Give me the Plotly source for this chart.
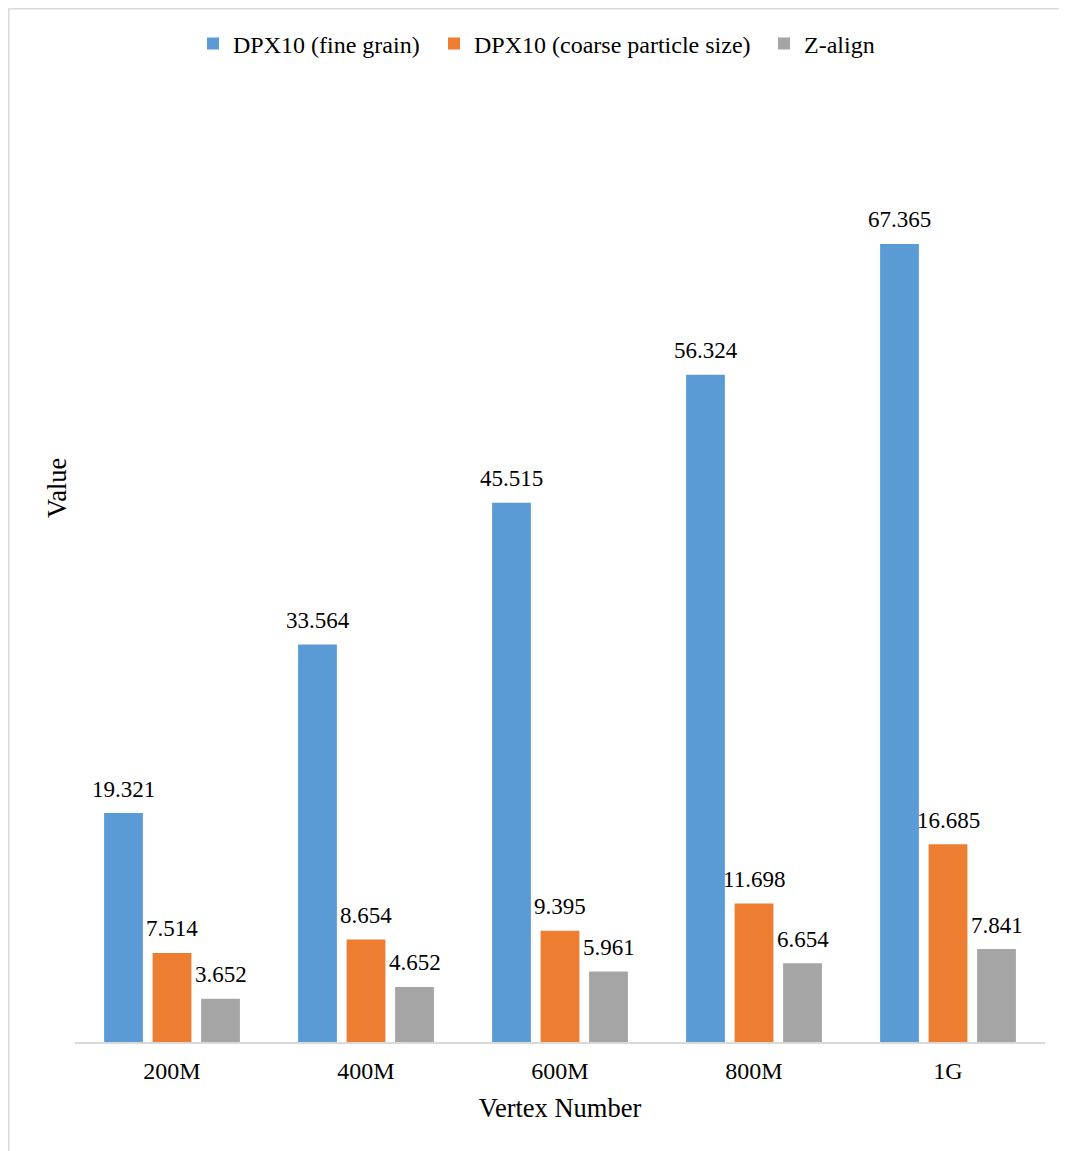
import plotly.graph_objects as go

categories = ["200M", "400M", "600M", "800M", "1G"]
series_names = ["DPX10 (fine grain)", "DPX10 (coarse particle size)", "Z-align"]
fine_grain = [19.321, 33.564, 45.515, 56.324, 67.365]
coarse = [7.514, 8.654, 9.395, 11.698, 16.685]
z_align = [3.652, 4.652, 5.961, 6.654, 7.841]
colors = ["#5B9BD5", "#ED7D31", "#A5A5A5"]

OFF = 8  # page body offset
W, H = 1067 - OFF, 1151 - OFF
# screen-space targets
PLOT_L, PLOT_R, PLOT_T, BASE = 75, 1045, 100, 1042
L = PLOT_L - OFF
R = W - (PLOT_R - OFF)
T = PLOT_T - OFF
B = H - (BASE - OFF)
plot_w = W - L - R
plot_h = H - T - B
ymax = plot_h / 11.846
BARGAP = 0.25
slot_px = plot_w / len(categories) * (1 - BARGAP) / len(series_names)

FONT = "Liberation Serif, Times New Roman, serif"

def px_to_paper(px, py):
    fx, fy = px - OFF, py - OFF
    return (fx - L) / plot_w, (H - B - fy) / plot_h

legend_names = ["legend", "legend2", "legend3"]
legend_text_x = [233, 474, 804]
LEG_Y = px_to_paper(0, 44)[1]

fig = go.Figure()
annotations = []
all_vals = [fine_grain, coarse, z_align]
for i, (name, vals, c) in enumerate(zip(series_names, all_vals, colors)):
    fig.add_trace(go.Bar(
        x=categories, y=vals, name=name, marker=dict(color=c, line=dict(width=0)),
        legend=legend_names[i], cliponaxis=False,
    ))
    for cat, v in zip(categories, vals):
        annotations.append(dict(
            x=cat, y=v, xref="x", yref="y", text=f"{v:.3f}", showarrow=False,
            xanchor="center", yanchor="middle",
            xshift=(i - 1) * slot_px, yshift=24,
            font=dict(family=FONT, size=23, color="#000000")))

annotations.append(dict(
    text="Value", xref="paper", yref="paper",
    x=px_to_paper(57, 488)[0], y=px_to_paper(57, 488)[1],
    textangle=-90, showarrow=False, xanchor="center", yanchor="middle",
    font=dict(family=FONT, size=26.5, color="#000000")))

x0, y0 = px_to_paper(OFF + 0.75, OFF + 0.75)
x1, y1 = px_to_paper(1100, 1180)

legend_cfg = {}
for ln, tx in zip(legend_names, legend_text_x):
    legend_cfg[ln] = dict(
        orientation="h", x=px_to_paper(tx - 40, 0)[0], xanchor="left",
        y=LEG_Y, yanchor="middle",
        font=dict(family=FONT, size=24, color="#000000"),
        itemwidth=30, bgcolor="rgba(0,0,0,0)")

fig.update_layout(
    width=W, height=H,
    margin=dict(l=L, r=R, t=T, b=B, autoexpand=False),
    paper_bgcolor="white", plot_bgcolor="white",
    font=dict(family=FONT, size=24, color="#000000"),
    barmode="group", bargap=BARGAP, bargroupgap=0.2,
    showlegend=True,
    xaxis=dict(showline=True, linecolor="#D9D9D9", linewidth=2,
               showgrid=False, zeroline=False, ticks="", ticklabelstandoff=6,
               tickfont=dict(family=FONT, size=24, color="#000000"),
               title=dict(text="Vertex Number", standoff=16,
                          font=dict(family=FONT, size=26.5, color="#000000")),
               automargin=False),
    yaxis=dict(range=[0, ymax], showline=False, showgrid=False,
               zeroline=False, showticklabels=False, ticks="",
               automargin=False),
    annotations=annotations,
    shapes=[dict(type="rect", xref="paper", yref="paper",
                 x0=x0, y0=y1, x1=x1, y1=y0,
                 line=dict(color="#D9D9D9", width=1.5), fillcolor="rgba(0,0,0,0)",
                 layer="below")],
    **legend_cfg,
)

fig.write_html("out.html")
